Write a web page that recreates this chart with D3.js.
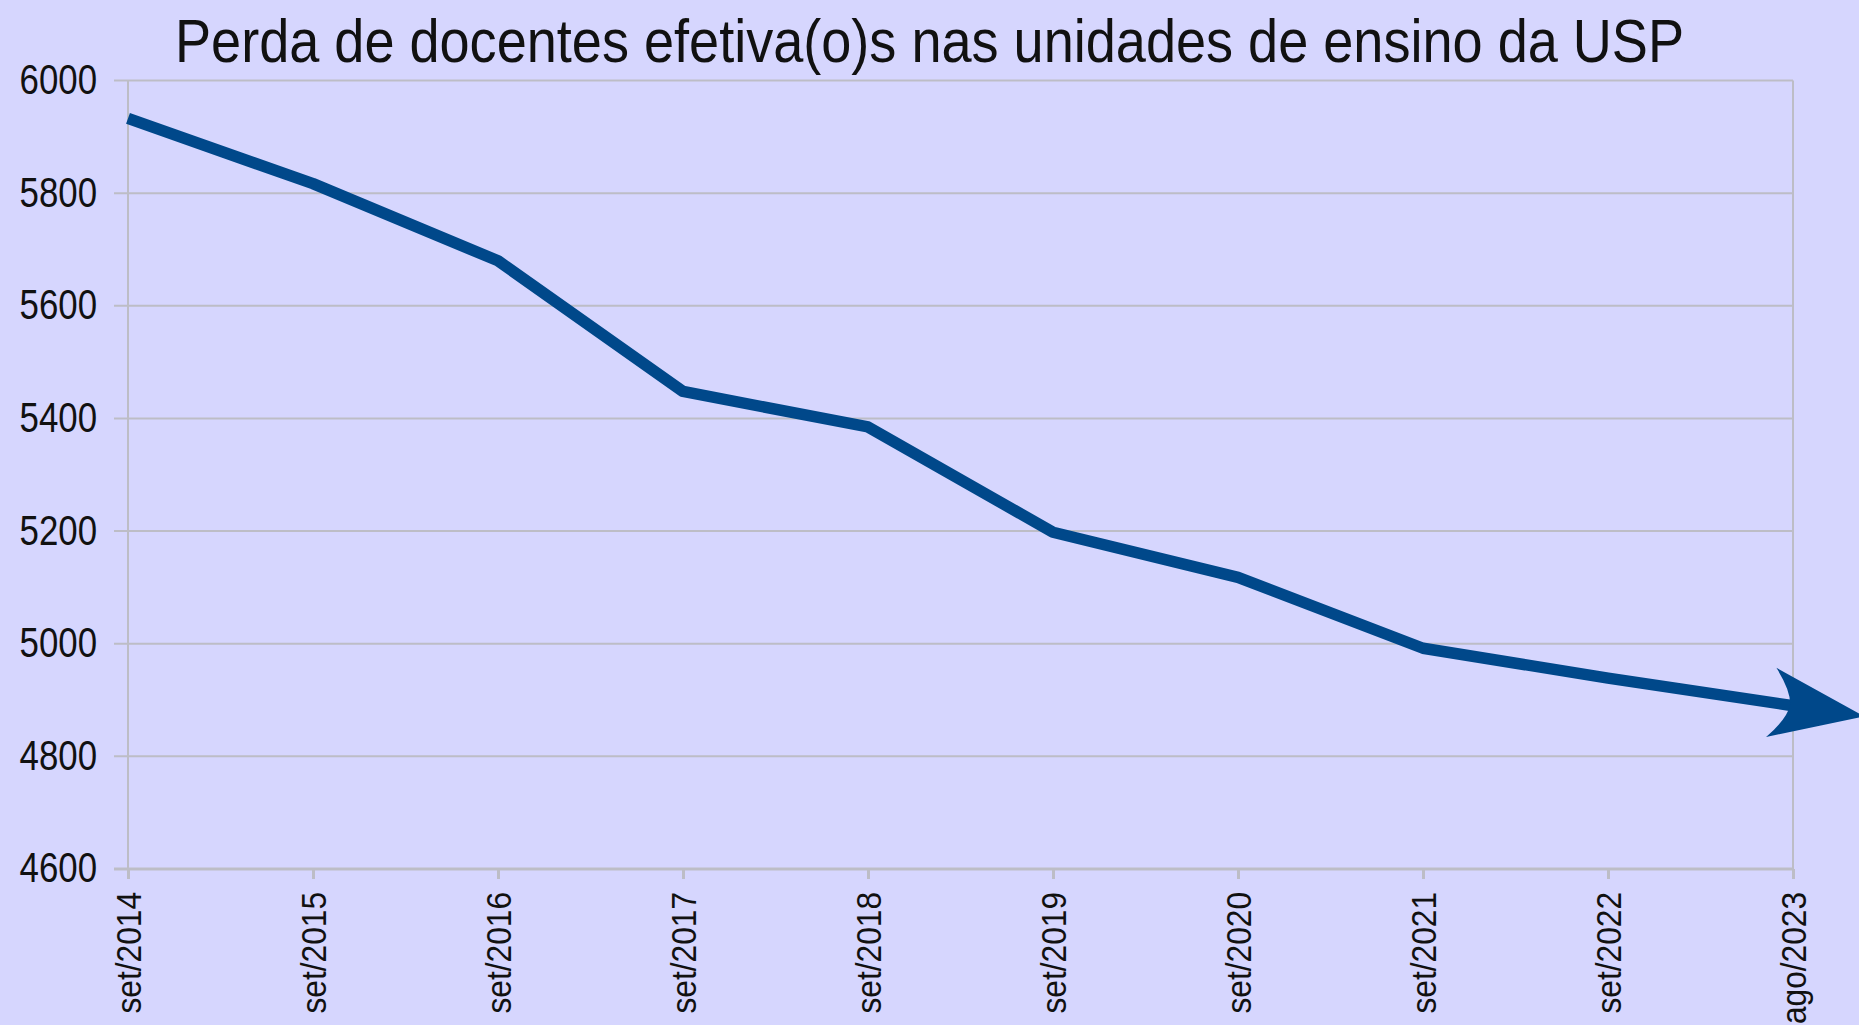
<!DOCTYPE html>
<html>
<head>
<meta charset="utf-8">
<script src="https://cdn.jsdelivr.net/npm/d3@7"></script>
<style>
  html, body { margin: 0; padding: 0; background: #D6D6FE; }
  svg { display: block; }
  text { font-family: "Liberation Sans", Arial, sans-serif; fill: #111; }
</style>
</head>
<body>
<svg id="chart" width="1859" height="1025"></svg>
<script>
const title = "Perda de docentes efetiva(o)s nas unidades de ensino da USP";
const categories = ["set/2014","set/2015","set/2016","set/2017","set/2018","set/2019","set/2020","set/2021","set/2022","ago/2023"];
const values = [5933, 5817, 5680, 5448, 5385, 5198, 5118, 4992, 4939, 4890];
const yTicks = [4600, 4800, 5000, 5200, 5400, 5600, 5800, 6000];

const W = 1859, H = 1025;
const margin = { left: 128, right: W - 1793, top: 80.6, bottom: H - 869 };
const FONT = '"Liberation Sans", Arial, sans-serif';

const svg = d3.select("#chart");
svg.append("rect").attr("width", W).attr("height", H).attr("fill", "#D6D6FE");

const x = d3.scalePoint().domain(categories).range([margin.left, W - margin.right]);
const y = d3.scaleLinear().domain([4600, 6000]).range([H - margin.bottom, margin.top]);

const grid = "#BDBDC6";

// Gridlines
svg.append("g")
  .selectAll("line")
  .data(yTicks)
  .join("line")
  .attr("x1", margin.left - 14)
  .attr("x2", W - margin.right)
  .attr("y1", d => y(d))
  .attr("y2", d => y(d))
  .attr("stroke", grid)
  .attr("stroke-width", d => d === 4600 ? 3 : 2);

// Left & right vertical lines
svg.append("line")
  .attr("x1", margin.left).attr("x2", margin.left)
  .attr("y1", y(6000)).attr("y2", y(4600) + 10)
  .attr("stroke", grid).attr("stroke-width", 2);
svg.append("line")
  .attr("x1", W - margin.right).attr("x2", W - margin.right)
  .attr("y1", y(6000)).attr("y2", y(4600))
  .attr("stroke", grid).attr("stroke-width", 2);

// Y axis labels
const yAxis = svg.append("g")
  .attr("transform", `translate(${margin.left - 14},0)`)
  .call(d3.axisLeft(y).tickValues(yTicks).tickSize(0).tickPadding(17).tickFormat(d3.format("d")));
yAxis.select(".domain").remove();
yAxis.selectAll("text")
  .style("font-family", FONT)
  .attr("font-size", 43)
  .attr("fill", "#111")
  .attr("x", 0)
  .attr("dy", "0.3em")
  .attr("transform", "translate(-17,0) scale(0.81,1)");

// X axis
const xScaleText = 0.88;
const xAxis = svg.append("g")
  .attr("transform", `translate(0,${y(4600)})`)
  .call(d3.axisBottom(x).tickSize(10).tickPadding(0));
xAxis.select(".domain").remove();
xAxis.selectAll(".tick line").attr("stroke", grid).attr("stroke-width", 3);
xAxis.selectAll("text")
  .style("font-family", FONT)
  .attr("font-size", 36)
  .attr("fill", "#111")
  .attr("text-anchor", "end")
  .attr("transform", `rotate(-90) scale(${xScaleText},1)`)
  .attr("x", -23 / xScaleText)
  .attr("y", 0)
  .attr("dy", "0.36em");

// Arrow marker
const defs = svg.append("defs");
defs.append("marker")
  .attr("id", "arrow")
  .attr("markerUnits", "userSpaceOnUse")
  .attr("viewBox", "-30 -40 110 80")
  .attr("markerWidth", 110)
  .attr("markerHeight", 80)
  .attr("refX", 0)
  .attr("refY", 0)
  .attr("orient", "auto")
  .append("path")
  .attr("d", "M72,0 L-22,-35 Q-4,-14 -3,0 Q-4,14 -22,35 Z")
  .attr("fill", "#00488A");

// Line
const line = d3.line()
  .x((d, i) => x(categories[i]))
  .y(d => y(d));

svg.append("path")
  .datum(values)
  .attr("d", line)
  .attr("fill", "none")
  .attr("stroke", "#00488A")
  .attr("stroke-width", 11.5)
  .attr("stroke-linejoin", "round")
  .attr("marker-end", "url(#arrow)");

// Title
svg.append("text")
  .attr("x", W / 2)
  .attr("y", 62)
  .attr("text-anchor", "middle")
  .attr("font-size", 61)
  .attr("textLength", 1509)
  .attr("lengthAdjust", "spacingAndGlyphs")
  .text(title);
</script>
</body>
</html>
